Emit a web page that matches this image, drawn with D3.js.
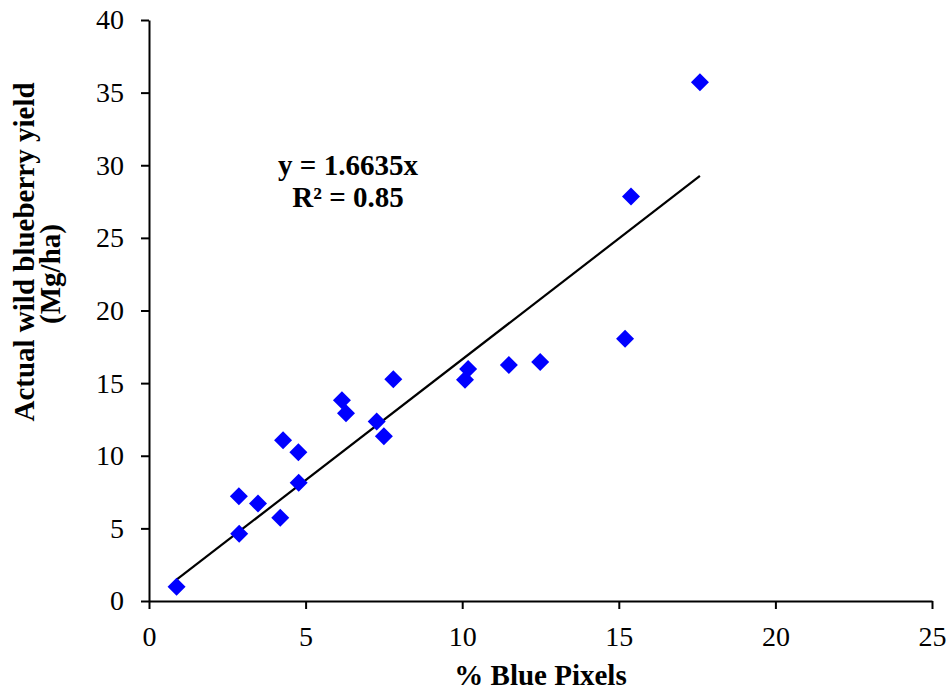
<!DOCTYPE html>
<html>
<head>
<meta charset="utf-8">
<script src="https://cdn.jsdelivr.net/npm/d3@7"></script>
<style>
  body { margin: 0; background: #fff; }
  svg text { font-family: "Liberation Serif", "Times New Roman", serif; fill: #000; }
  .axis path, .axis line { stroke: #000; stroke-width: 2px; }
  .axis text { font-size: 28px; font-family: "Liberation Serif", "Times New Roman", serif; }
  .title { font-size: 29px; font-weight: bold; }
</style>
</head>
<body>
<svg id="chart" width="952" height="692"></svg>
<script>
// % blue pixels vs actual yield (Mg/ha)
var bluePixels = [0.88, 2.87, 2.88, 3.48, 4.19, 4.28, 4.77, 4.78, 6.16, 6.29, 7.27, 7.50, 7.80, 10.09, 10.19, 11.49, 12.49, 15.20, 15.39, 17.59];
var yieldVals  = [0.98, 7.21, 4.63, 6.71, 5.73, 11.07, 10.24, 8.14, 13.82, 12.92, 12.35, 11.34, 15.26, 15.24, 15.98, 16.25, 16.46, 18.06, 27.85, 35.71];
var slope = 1.6635;
var eqLines = ["y = 1.6635x", "R\u00b2 = 0.85"];
var xTicks = [0, 5, 10, 15, 20, 25];
var yTicks = [0, 5, 10, 15, 20, 25, 30, 35, 40];

var margin = { top: 20, right: 20, bottom: 91, left: 149 },
	width = 952 - margin.left - margin.right,
	height = 692 - margin.top - margin.bottom;

var svg = d3.select("#chart")
	.append("g")
	.attr("transform", "translate(" + margin.left + "," + margin.top + ")");

var x = d3.scaleLinear().domain([0, 25]).range([0, width]);
var y = d3.scaleLinear().domain([0, 40]).range([height, 0]);

var points = bluePixels.map(function (d, i) { return { x: d, y: yieldVals[i] }; });

// axes
svg.append("g")
	.attr("class", "axis")
	.attr("transform", "translate(0," + height + ")")
	.call(d3.axisBottom(x).tickValues(xTicks).tickSize(8).tickSizeOuter(0).tickPadding(17));

svg.append("g")
	.attr("class", "axis")
	.call(d3.axisLeft(y).tickValues(yTicks).tickSize(8).tickSizeOuter(0).tickPadding(17));

// trend line through origin, spanning the data
var xr = d3.extent(bluePixels);
svg.append("line")
	.attr("x1", x(xr[0])).attr("y1", y(slope * xr[0]))
	.attr("x2", x(xr[1])).attr("y2", y(slope * xr[1]))
	.attr("stroke", "#000")
	.attr("stroke-width", 2.2);

// diamonds
svg.selectAll(".pt")
	.data(points)
	.enter().append("path")
	.attr("class", "pt")
	.attr("transform", function (d) { return "translate(" + x(d.x) + "," + y(d.y) + ")"; })
	.attr("d", "M0,-9L9,0L0,9L-9,0Z")
	.attr("fill", "#0000ff");

// equation
svg.append("text")
	.attr("class", "title")
	.attr("text-anchor", "middle")
	.selectAll("tspan")
	.data(eqLines)
	.enter().append("tspan")
	.attr("x", 199)
	.attr("y", function (d, i) { return 155 + i * 32; })
	.text(function (d) { return d; });

// axis titles
svg.append("text")
	.attr("class", "title")
	.attr("text-anchor", "middle")
	.attr("x", width / 2)
	.attr("y", height + 84)
	.text("% Blue Pixels");

var yt = svg.append("text")
	.attr("class", "title")
	.attr("text-anchor", "middle")
	.attr("transform", "translate(-115," + 232 + ") rotate(-90)");
yt.append("tspan").attr("x", 0).attr("y", 0).text("Actual wild blueberry yield");
yt.append("tspan").attr("x", -22).attr("y", 26).text("(Mg/ha)");
</script>
</body>
</html>
